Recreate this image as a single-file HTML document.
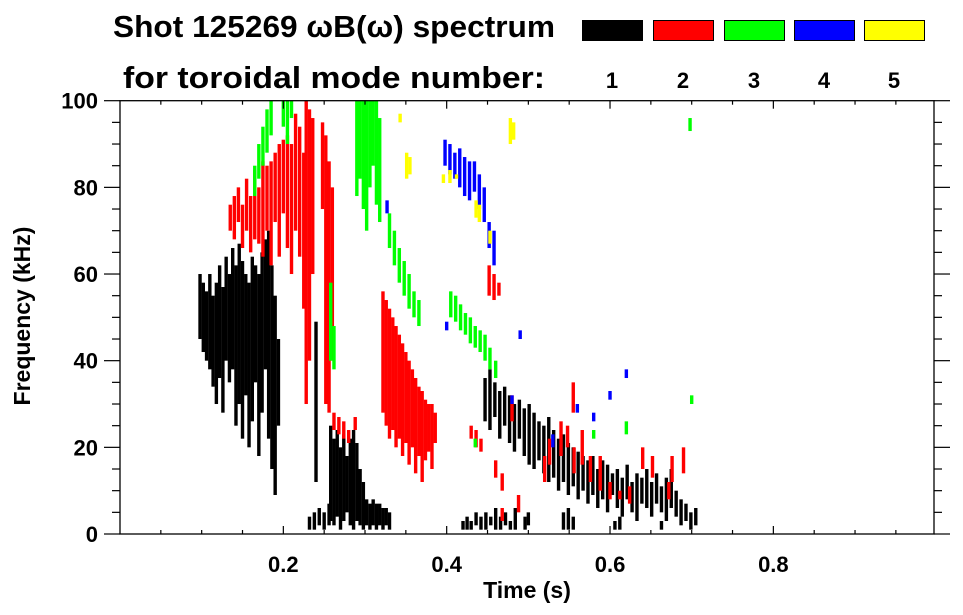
<!DOCTYPE html>
<html><head><meta charset="utf-8"><style>
html,body{margin:0;padding:0;background:#fff;}
svg{display:block;font-family:"Liberation Sans",sans-serif;font-weight:bold;}
</style></head><body>
<svg id="chart" width="963" height="615" viewBox="0 0 963 615">
<text x="113" y="37" font-size="31" textLength="442" lengthAdjust="spacingAndGlyphs">Shot 125269 ωB(ω) spectrum</text>
<text x="123" y="88" font-size="31" textLength="422" lengthAdjust="spacingAndGlyphs">for toroidal mode number:</text>
<g id="legend"></g>
<g id="marks"></g>
<g id="axes"></g>
<text x="527" y="598" font-size="23" text-anchor="middle">Time (s)</text>
<text transform="translate(30,316) rotate(-90)" font-size="23" text-anchor="middle">Frequency (kHz)</text>
</svg>
<script>
const modeNames=["1","2","3","4","5"];
const modeColors=["#000000","#ff0000","#00ff00","#0000ff","#ffff00"];
const xTicks=[0.2,0.4,0.6,0.8];
const yTicks=[0,20,40,60,80,100];
// each mode: times (s), low freq (kHz), high freq (kHz)
const m1T=[0.098,0.102,0.106,0.110,0.114,0.118,0.122,0.126,0.130,0.134,0.138,0.142,0.146,0.150,0.154,0.158,0.162,0.166,0.170,0.174,0.178,0.182,0.186,0.190,0.194,
0.232,0.238,0.244,0.250,0.256,0.258,0.262,0.266,0.270,0.274,0.278,0.282,0.286,0.290,0.294,0.298,0.302,0.306,0.310,0.314,0.318,0.322,0.326,0.330,0.240,
0.447,0.453,0.459,0.465,0.471,0.477,0.483,0.489,0.495,0.501,0.507,0.513,0.519,0.525,0.531,0.537,0.543,0.549,0.555,0.561,0.567,0.573,0.579,0.585,0.591,0.597,0.603,0.609,0.615,0.621,0.627,0.633,0.639,0.645,0.651,0.657,0.663,0.669,0.675,0.681,0.687,0.693,0.699,0.705,
0.420,0.425,0.430,0.436,0.442,0.448,0.454,0.460,0.466,0.472,0.478,0.484,0.496,0.500,0.543,0.549,0.555,0.606,0.612,0.663];
const m1Lo=[45,42,40,38,34,30,36,28,40,35,38,25,30,22,32,20,26,35,18,28,38,22,15,9,25,
1,1,2,1,2,3,2,4,1,3,5,2,1,3,2,1,2,1,2,1,2,1,2,1,12,
26,24,27,22,25,21,19,22,18,16,15,17,14,12,13,10,12,9,11,8,10,7,9,6,8,5,9,6,4,8,5,3,7,6,4,7,5,3,6,4,2,3,1,2,
1,1,1,2,1,1,2,1,1,2,1,1,1,2,1,1,1,1,1,1];
const m1Hi=[60,58,56,60,55,58,62,57,64,60,66,62,67,63,60,58,64,62,60,65,68,70,62,55,45,
4,5,6,5,7,25,22,24,20,23,18,22,24,21,15,12,8,7,8,7,7,6,6,5,49,
36,38,35,33,34,32,30,31,29,30,28,26,25,27,24,22,23,21,20,19,18,17,18,15,17,16,14,15,13,16,12,14,13,15,12,14,11,13,15,10,8,7,5,6,
3,4,3,5,4,5,4,6,4,5,3,6,4,5,5,6,4,3,4,3];
const m2T=[0.135,0.140,0.145,0.150,0.155,0.160,0.165,0.170,0.175,0.180,0.185,0.190,0.195,0.200,0.205,0.210,0.215,0.220,0.225,0.228,0.232,0.236,0.248,0.252,0.256,0.260,
0.262,0.268,0.274,0.280,0.288,
0.322,0.326,0.330,0.334,0.338,0.342,0.346,0.350,0.354,0.358,0.362,0.366,0.370,0.374,0.378,0.382,0.386,
0.452,0.458,0.464,0.430,0.436,0.442,0.460,0.468,0.520,0.526,0.540,0.548,0.556,0.566,0.576,0.588,0.600,0.612,0.624,0.640,0.652,0.672,0.676,0.690,0.480,0.555,0.488,0.468];
const m2Lo=[70,68,72,66,70,65,68,67,64,70,62,72,64,74,66,60,70,64,52,30,40,60,75,30,28,40,
24,23,22,21,24,
28,25,22,24,20,22,18,21,16,20,14,18,12,17,19,15,21,
55,54,55,22,20,19,13,10,12,16,18,20,14,16,12,10,8,8,7,15,13,8,12,14,26,28,5,3];
const m2Hi=[76,78,80,76,82,78,84,80,86,85,86,88,90,91,92,90,97,94,88,100,98,96,95,92,86,80,
28,27,26,24,27,
56,54,52,50,48,46,44,42,40,38,36,34,33,31,30,30,28,
62,60,58,25,24,22,17,14,18,22,26,25,20,24,18,18,12,10,11,20,18,12,18,20,32,35,9,6];
const m3T=[0.165,0.170,0.175,0.180,0.185,0.200,0.205,0.210,0.258,0.262,
0.290,0.294,0.298,0.302,0.306,0.310,0.314,0.318,
0.330,0.336,0.342,0.348,0.354,0.360,0.366,0.405,0.411,0.417,0.423,0.429,0.435,0.441,0.447,0.453,0.460,
0.435,0.580,0.620,0.700,0.698];
const m3Lo=[78,82,85,88,92,94,90,96,40,38,78,82,75,70,80,85,76,72,66,62,58,55,52,50,48,50,49,47,46,44,43,42,40,38,36,20,22,23,30,93];
const m3Hi=[85,90,94,98,100,100,100,100,58,48,100,100,100,100,100,100,100,96,74,70,66,63,60,56,54,56,55,53,51,50,48,47,46,43,40,22,24,26,32,96];
const m4T=[0.398,0.404,0.410,0.416,0.422,0.428,0.434,0.440,0.446,0.452,0.458,0.327,0.480,0.490,0.530,0.560,0.580,0.600,0.620,0.400];
const m4Lo=[85,83,82,80,78,77,79,75,72,66,62,74,30,45,20,28,26,31,36,47];
const m4Hi=[91,90,88,89,87,86,86,83,80,72,70,77,32,47,23,30,28,33,38,49];
const m5T=[0.343,0.351,0.355,0.396,0.404,0.412,0.436,0.440,0.453,0.478,0.482];
const m5Lo=[95,82,83,81,81,82,73,72,67,90,91];
const m5Hi=[97,88,87,83,84,83,77,76,70,96,95];
const modeT=[m1T,m2T,m3T,m4T,m5T], modeLo=[m1Lo,m2Lo,m3Lo,m4Lo,m5Lo], modeHi=[m1Hi,m2Hi,m3Hi,m4Hi,m5Hi];

const NS="http://www.w3.org/2000/svg";
const L=120,R=934,T=100.7,B=534, X0=0, X1=(R-L)/816.7, Y0=0, Y1=100;
const sx=t=>L+(t-X0)/(X1-X0)*(R-L);
const sy=f=>B-(f-Y0)/(Y1-Y0)*(B-T);
function mk(tag,attrs,parent){const e=document.createElementNS(NS,tag);for(const k in attrs)e.setAttribute(k,attrs[k]);parent.appendChild(e);return e;}

const marks=document.getElementById('marks');
for(let m=0;m<5;m++){
  const g=mk('g',{},marks);
  
  
  for(let i=0;i<modeT[m].length;i++){
    const y1=sy(modeHi[m][i]),y0=sy(modeLo[m][i]);
    const r=mk('rect',{x:sx(modeT[m][i])-1.7,y:y1,width:3.4,height:Math.max(1.5,y0-y1),fill:modeColors[m]},g);
    
    
  }
}

const legend=document.getElementById('legend');
const lx=[582,653,724,794,864];
for(let m=0;m<5;m++){
  const r=mk('rect',{x:lx[m]+0.5,y:20.5,width:60,height:20,fill:modeColors[m],stroke:'#000','stroke-width':1},legend);
  
  
  const t=mk('text',{x:lx[m]+30,y:88,'font-size':22,'text-anchor':'middle'},legend);
  t.textContent=modeNames[m];
  
  
}

const axes=document.getElementById('axes');
const fr=mk('rect',{x:L,y:T,width:R-L,height:B-T,fill:'none',stroke:'#000','stroke-width':1.3},axes);


for(let v=0.05;v<X1;v+=0.05){
  const x=sx(v), major=Math.abs(v/0.2-Math.round(v/0.2))<1e-6;
  const len=major?8:4;
  mk('line',{x1:x,x2:x,y1:B,y2:B-len,stroke:'#000','stroke-width':1.2},axes);
  mk('line',{x1:x,x2:x,y1:T,y2:T+len,stroke:'#000','stroke-width':1.2},axes);
}
for(let v=0;v<=100;v+=5){
  const y=sy(v), major=v%20===0, len=major?16:8;
  mk('line',{x1:L,x2:L-len,y1:y,y2:y,stroke:'#000','stroke-width':1.2},axes);
  mk('line',{x1:R,x2:R+len,y1:y,y2:y,stroke:'#000','stroke-width':1.2},axes);
}
for(const v of xTicks){
  const t=mk('text',{x:sx(v),y:572,'font-size':22,'text-anchor':'middle'},axes);
  t.textContent=v.toFixed(1);
  
  
}
for(const v of yTicks){
  const t=mk('text',{x:98,y:sy(v)+8,'font-size':22,'text-anchor':'end'},axes);
  t.textContent=String(v);
  
  
}
</script>
</body></html>
